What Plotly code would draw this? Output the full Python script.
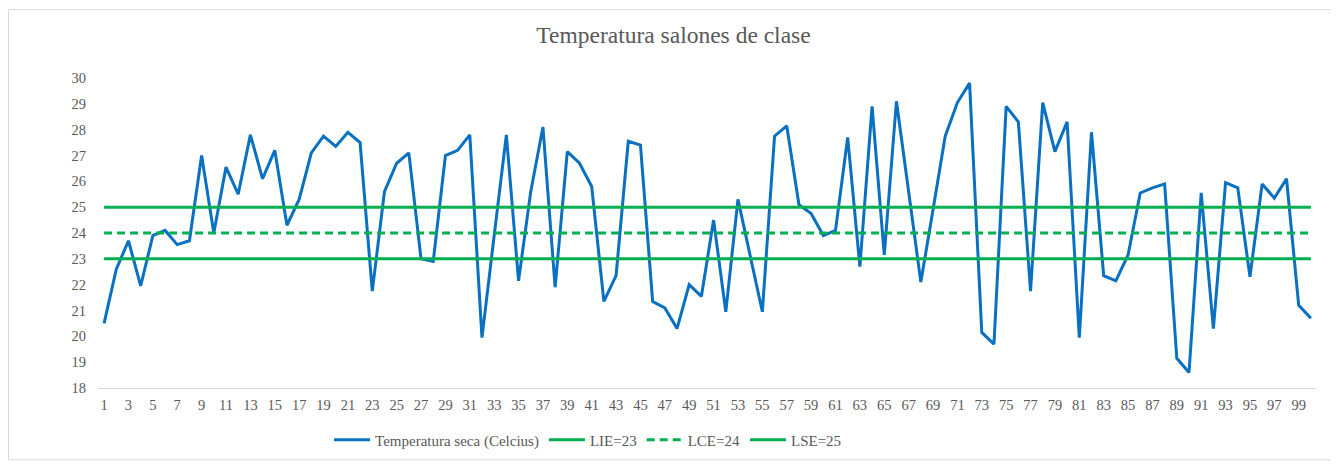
import plotly.graph_objects as go

# ---------- data ------------------------------------------------------------
dias = list(range(1, 101))
temperatura = [
    20.5, 22.6, 23.7, 21.95, 23.9, 24.1, 23.55, 23.7, 27.0, 24.0,
    26.55, 25.5, 27.8, 26.1, 27.2, 24.3, 25.3, 27.1, 27.75, 27.35,
    27.9, 27.5, 21.75, 25.6, 26.7, 27.1, 23.0, 22.9, 27.0, 27.2,
    27.8, 19.95, 23.9, 27.8, 22.15, 25.6, 28.1, 21.9, 27.15, 26.7,
    25.8, 21.35, 22.35, 27.55, 27.4, 21.35, 21.1, 20.3, 22.0, 21.55,
    24.5, 20.95, 25.3, 23.1, 20.95, 27.75, 28.15, 25.1, 24.75, 23.9,
    24.1, 27.7, 22.7, 28.9, 23.15, 29.1, 25.6, 22.1, 24.9, 27.75,
    29.05, 29.8, 20.15, 19.7, 28.9, 28.3, 21.75, 29.05, 27.15, 28.3,
    19.95, 27.9, 22.35, 22.15, 23.15, 25.55, 25.75, 25.9, 19.15, 18.6,
    25.55, 20.3, 25.95, 25.75, 22.3, 25.9, 25.35, 26.1, 21.2, 20.7,
]
LIE = 23
LCE = 24
LSE = 25
lie_vals = [LIE for _ in dias]
lce_vals = [LCE for _ in dias]
lse_vals = [LSE for _ in dias]

x_ticks = list(range(1, 100, 2))
y_ticks = list(range(18, 31))

BLUE = "#0A70C2"
GREEN = "#00B050"
GREY = "#595959"
FONT = "Liberation Serif"

# ---------- figure ----------------------------------------------------------
# page body has an 8px margin, so the figure is 8px smaller than the window
fig = go.Figure()
fig.add_trace(go.Scatter(x=dias, y=temperatura, mode="lines",
                         name="Temperatura seca (Celcius)",
                         line=dict(color=BLUE, width=3)))
fig.add_trace(go.Scatter(x=dias, y=lie_vals, mode="lines", name=f"LIE={LIE}",
                         line=dict(color=GREEN, width=3)))
fig.add_trace(go.Scatter(x=dias, y=lce_vals, mode="lines", name=f"LCE={LCE}",
                         line=dict(color=GREEN, width=3, dash="8px,5px")))
fig.add_trace(go.Scatter(x=dias, y=lse_vals, mode="lines", name=f"LSE={LSE}",
                         line=dict(color=GREEN, width=3)))

# chart-area border (Excel style)
fig.add_shape(type="rect", xref="paper", yref="paper",
              x0=-0.0734, x1=1.0148, y0=-0.2317, y1=1.2206,
              line=dict(color="#D9D9D9", width=1), layer="below")

fig.update_layout(
    width=1331, height=460,
    margin=dict(l=90, r=22, t=70, b=75),
    paper_bgcolor="white", plot_bgcolor="white",
    font=dict(family=FONT, color=GREY, size=14),
    title=dict(text="Temperatura salones de clase", x=0.5, xanchor="center",
               y=0.941, yanchor="middle",
               font=dict(family=FONT, size=23.5, color=GREY)),
    legend=dict(orientation="h", x=0.402, xanchor="center", y=-0.168,
                yanchor="middle", font=dict(family=FONT, size=15, color=GREY),
                itemwidth=36, tracegroupgap=0),
    showlegend=True,
)
fig.update_xaxes(range=[0.5, 100.5], tickmode="array", tickvals=x_ticks,
                 ticktext=[str(v) for v in x_ticks], showgrid=False,
                 zeroline=False, showline=True, linecolor="#D9D9D9",
                 linewidth=1, ticks="", tickfont=dict(size=14.5),
                 tickangle=0, ticklabelstandoff=4)
fig.update_yaxes(range=[18, 30], tickmode="array", tickvals=y_ticks,
                 showgrid=False, zeroline=False, showline=False, ticks="",
                 ticklabelstandoff=11, tickfont=dict(size=14.5))

fig.write_html("out.html")
